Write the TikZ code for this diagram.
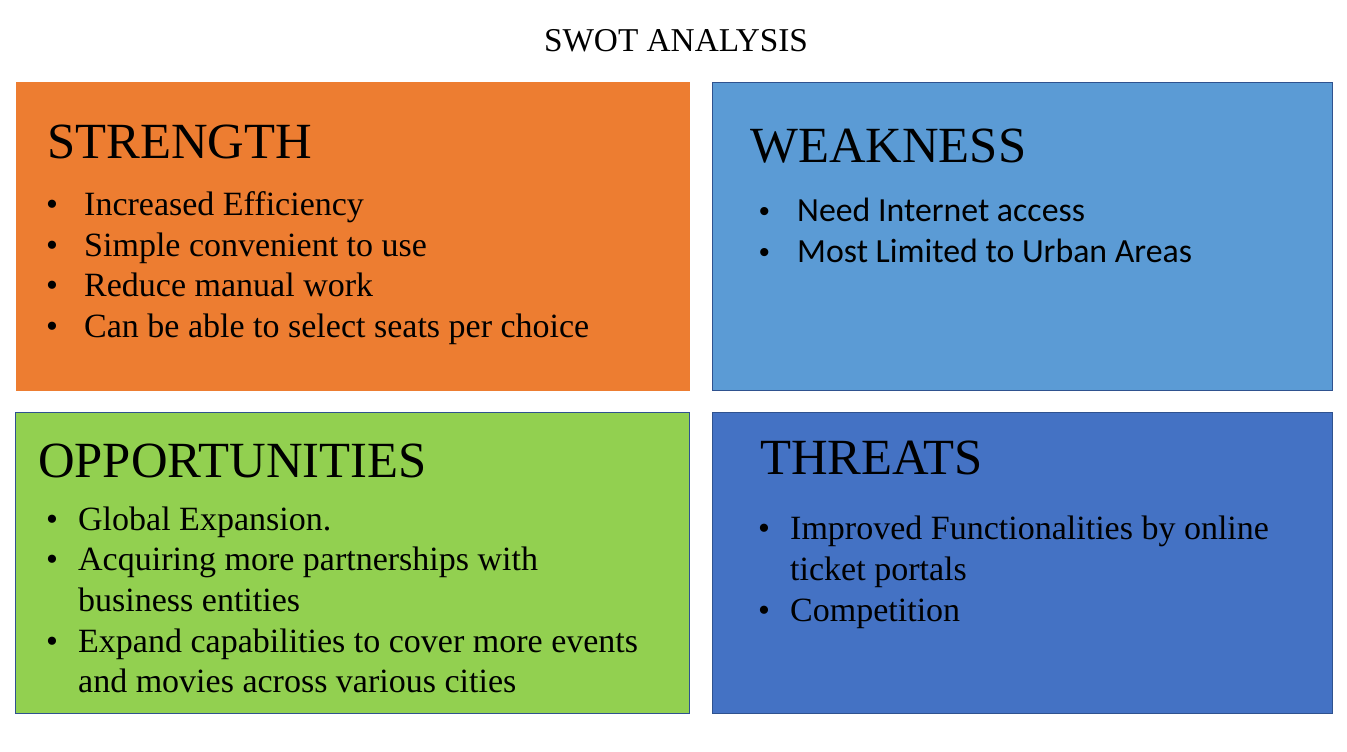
\documentclass[tikz,border=0pt]{standalone}
\usepackage{fontspec}
\setmainfont{Liberation Serif}
\newfontfamily\calibrifont{Carlito}
\newfontfamily\arialfont{Liberation Sans}
\definecolor{swotorange}{HTML}{ED7D31}
\definecolor{swotlightblue}{HTML}{5B9BD5}
\definecolor{swotgreen}{HTML}{92D050}
\definecolor{swotblue}{HTML}{4472C4}
\definecolor{swotedge}{HTML}{2F528F}
\tikzset{
  quad/.style={rectangle, anchor=north west, inner sep=0pt, line width=1pt},
  heading/.style={anchor=base west, inner sep=0pt, font=\fontsize{50.7}{60}\selectfont},
  dot/.style={anchor=base west, inner sep=0pt, font=\fontsize{34}{40.7}\selectfont},
  item/.style={anchor=base west, inner sep=0pt, font=\fontsize{34}{40.7}\selectfont},
  sansdot/.style={anchor=base west, inner sep=0pt, font=\arialfont\fontsize{30}{41}\selectfont},
  sansitem/.style={anchor=base west, inner sep=0pt, font=\calibrifont\fontsize{33.8}{41}\selectfont},
}
\begin{document}
\begin{tikzpicture}[x=1pt,y=-1pt]
\useasboundingbox (0,0) rectangle (1347,752);
\fill[white] (0,0) rectangle (1347,752);

% title
\node[anchor=base, inner sep=0pt, font=\fontsize{33.3}{40}\selectfont] (title) at (676,52) {SWOT ANALYSIS};

% quadrants
\node[quad, fill=swotorange, minimum width=674pt, minimum height=308pt] (S) at (15,82) {};
\node[quad, fill=swotlightblue, draw=swotedge, minimum width=620pt, minimum height=308pt] (W) at (712,82) {};
\node[quad, fill=swotgreen, draw=swotedge, minimum width=674pt, minimum height=301pt] (O) at (15,412) {};
\node[quad, fill=swotblue, draw=swotedge, minimum width=620pt, minimum height=301pt] (T) at (712,412) {};

% strength
\node[heading] (sh) at (47,158) {STRENGTH};
\node[dot] (sd1) at (46,215) {•};
\node[dot] (sd2) at (46,256) {•};
\node[dot] (sd3) at (46,296) {•};
\node[dot] (sd4) at (46,337) {•};
\node[item] (s1) at (84,215) {Increased Efficiency};
\node[item] (s2) at (84,256) {Simple convenient to use};
\node[item] (s3) at (84,296) {Reduce manual work};
\node[item] (s4) at (84,337) {Can be able to select seats per choice};

% weakness
\node[heading] (wh) at (750,162) {WEAKNESS};
\node[sansdot] (wd1) at (759,221) {•};
\node[sansdot] (wd2) at (759,262) {•};
\node[sansitem] (w1) at (797,221) {Need Internet access};
\node[sansitem] (w2) at (797,262) {Most Limited to Urban Areas};

% opportunities
\node[heading] (oh) at (38,477) {OPPORTUNITIES};
\node[dot] (od1) at (46,530) {•};
\node[dot] (od2) at (46,570) {•};
\node[dot] (od3) at (46,652) {•};
\node[item] (o1) at (78,530) {Global Expansion.};
\node[item] (o2a) at (78,570) {Acquiring more partnerships with};
\node[item] (o2b) at (78,611) {business entities};
\node[item] (o3a) at (78,652) {Expand capabilities to cover more events};
\node[item] (o3b) at (78,692) {and movies across various cities};

% threats
\node[heading] (th) at (760,474) {THREATS};
\node[dot] (td1) at (758,539) {•};
\node[dot] (td2) at (758,621) {•};
\node[item] (t1a) at (790,539) {Improved Functionalities by online};
\node[item] (t1b) at (790,580) {ticket portals};
\node[item] (t2) at (790,621) {Competition};
\end{tikzpicture}
\end{document}
